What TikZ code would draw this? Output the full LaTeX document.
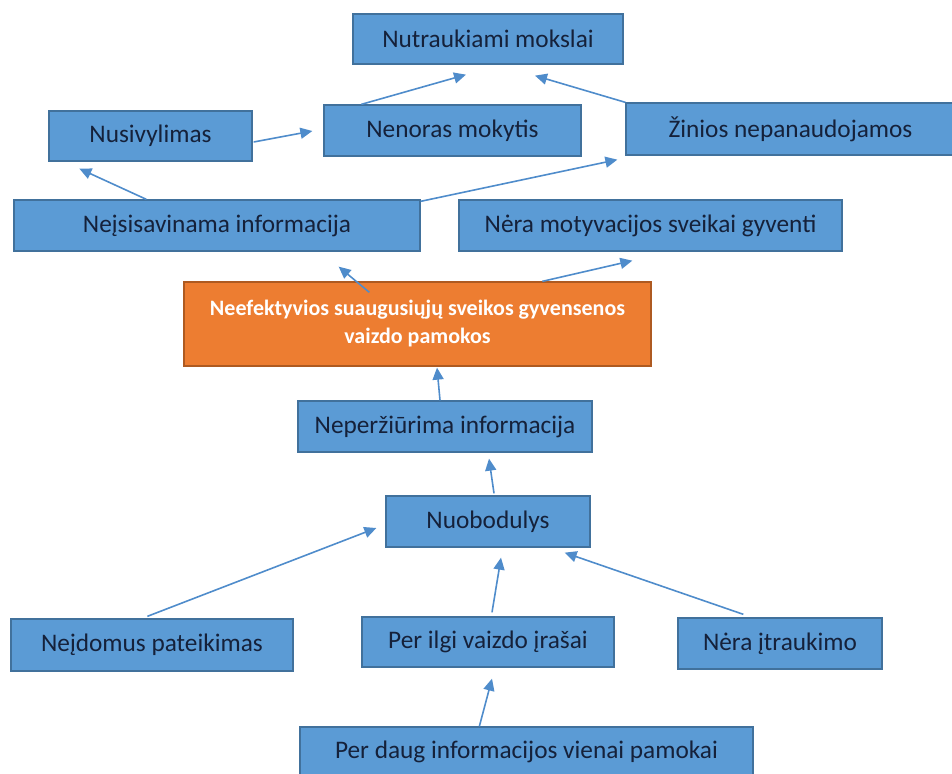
\documentclass[tikz,border=0pt]{standalone}
\usepackage{fontspec}
\setmainfont{Carlito}
\usetikzlibrary{arrows.meta,calc}
\definecolor{boxblue}{HTML}{5B9BD5}
\definecolor{boxedge}{HTML}{41719C}
\definecolor{boxorange}{HTML}{ED7D31}
\definecolor{orangeedge}{HTML}{AE5A21}
\definecolor{inktext}{HTML}{15213A}
\definecolor{linkblue}{HTML}{4F8CCB}
\tikzset{
  cause/.style={draw=boxedge, line width=1.3pt, fill=boxblue, text=inktext,
    inner sep=0pt, align=center, font=\fontsize{25.3pt}{30pt}\selectfont},
  core/.style={draw=orangeedge, line width=1.3pt, fill=boxorange, text=white,
    inner sep=0pt, align=center, font=\fontsize{22pt}{28pt}\selectfont\bfseries},
  link/.style={draw=linkblue, line width=1.6pt, -{Triangle[length=12pt,width=11pt]}}
}
\begin{document}
\begin{tikzpicture}[x=1pt,y=-1pt]
\useasboundingbox (0,0) rectangle (952,773);
\clip (0,0) rectangle (952,773);

% consequences
\node[cause, minimum width=270pt, minimum height=50pt] (nutr)   at (488,39)    {Nutraukiami mokslai};
\node[cause, minimum width=203pt, minimum height=50pt] (nusiv)  at (150.5,136) {Nusivylimas};
\node[cause, minimum width=257pt, minimum height=51pt] (nenor)  at (452.5,130.5) {Nenoras mokytis};
\node[cause, minimum width=329pt, minimum height=52pt] (zinios) at (790.5,129) {Žinios nepanaudojamos};
\node[cause, minimum width=406pt, minimum height=51pt] (neis)   at (217,225.5) {Neįsisavinama informacija};
\node[cause, minimum width=383pt, minimum height=51pt] (nemot)  at (650.5,225.5) {Nėra motyvacijos sveikai gyventi};

% central problem
\node[core, minimum width=467pt, minimum height=84pt] (core) at (417.5,324)
  {Neefektyvios suaugusiųjų sveikos gyvensenos\\vaizdo pamokos};

% causes
\node[cause, minimum width=294pt, minimum height=51pt] (neper)  at (445,426.5) {Neperžiūrima informacija};
\node[cause, minimum width=204pt, minimum height=51pt] (nuob)   at (488,521.5) {Nuobodulys};
\node[cause, minimum width=282pt, minimum height=52pt] (neid)   at (152,645)   {Neįdomus pateikimas};
\node[cause, minimum width=252pt, minimum height=50pt] (ilgi)   at (488,642)   {Per ilgi vaizdo įrašai};
\node[cause, minimum width=204pt, minimum height=51pt] (itrauk) at (780,643.5) {Nėra įtraukimo};
\node[cause, minimum width=453pt, minimum height=50pt] (daug)   at (526.5,752) {Per daug informacijos vienai pamokai};

% connectors
\draw[link] ($(nusiv.east)+(1,6)$)            -- ($(nenor.west)+(-11,0.5)$);
\draw[link] ($(nenor.north west)+(38,0)$)     -- ($(nutr.south)+(-22,10)$);
\draw[link] (zinios.north west)               -- ($(nutr.south)+(47,11)$);
\draw[link] ($(neis.north west)+(133,0)$)     -- ($(nusiv.south west)+(31,7)$);
\draw[link] ($(neis.north east)+(0,2)$)       -- ($(zinios.south west)+(-8,4)$);
\draw[link] ($(core.north west)+(186,11)$)    -- ($(neis.south east)+(-82,15)$);
\draw[link] ($(core.north west)+(359,0)$)     -- ($(nemot.south west)+(174,9)$);
\draw[link] ($(neper.north)+(-5,0)$)          -- ($(core.south)+(19.5,1)$);
\draw[link] ($(nuob.north)+(6,-2)$)           -- ($(neper.south)+(44,6)$);
\draw[link] ($(neid.north west)+(137,-2)$)    -- ($(nuob.west)+(-9,6.5)$);
\draw[link] ($(ilgi.north)+(4,-4)$)           -- ($(nuob.south)+(13,10)$);
\draw[link] ($(itrauk.north west)+(66,-3)$)   -- ($(nuob.south east)+(-26,5)$);
\draw[link] ($(daug.north west)+(180,0)$)     -- ($(ilgi.south)+(4,11)$);
\end{tikzpicture}
\end{document}
